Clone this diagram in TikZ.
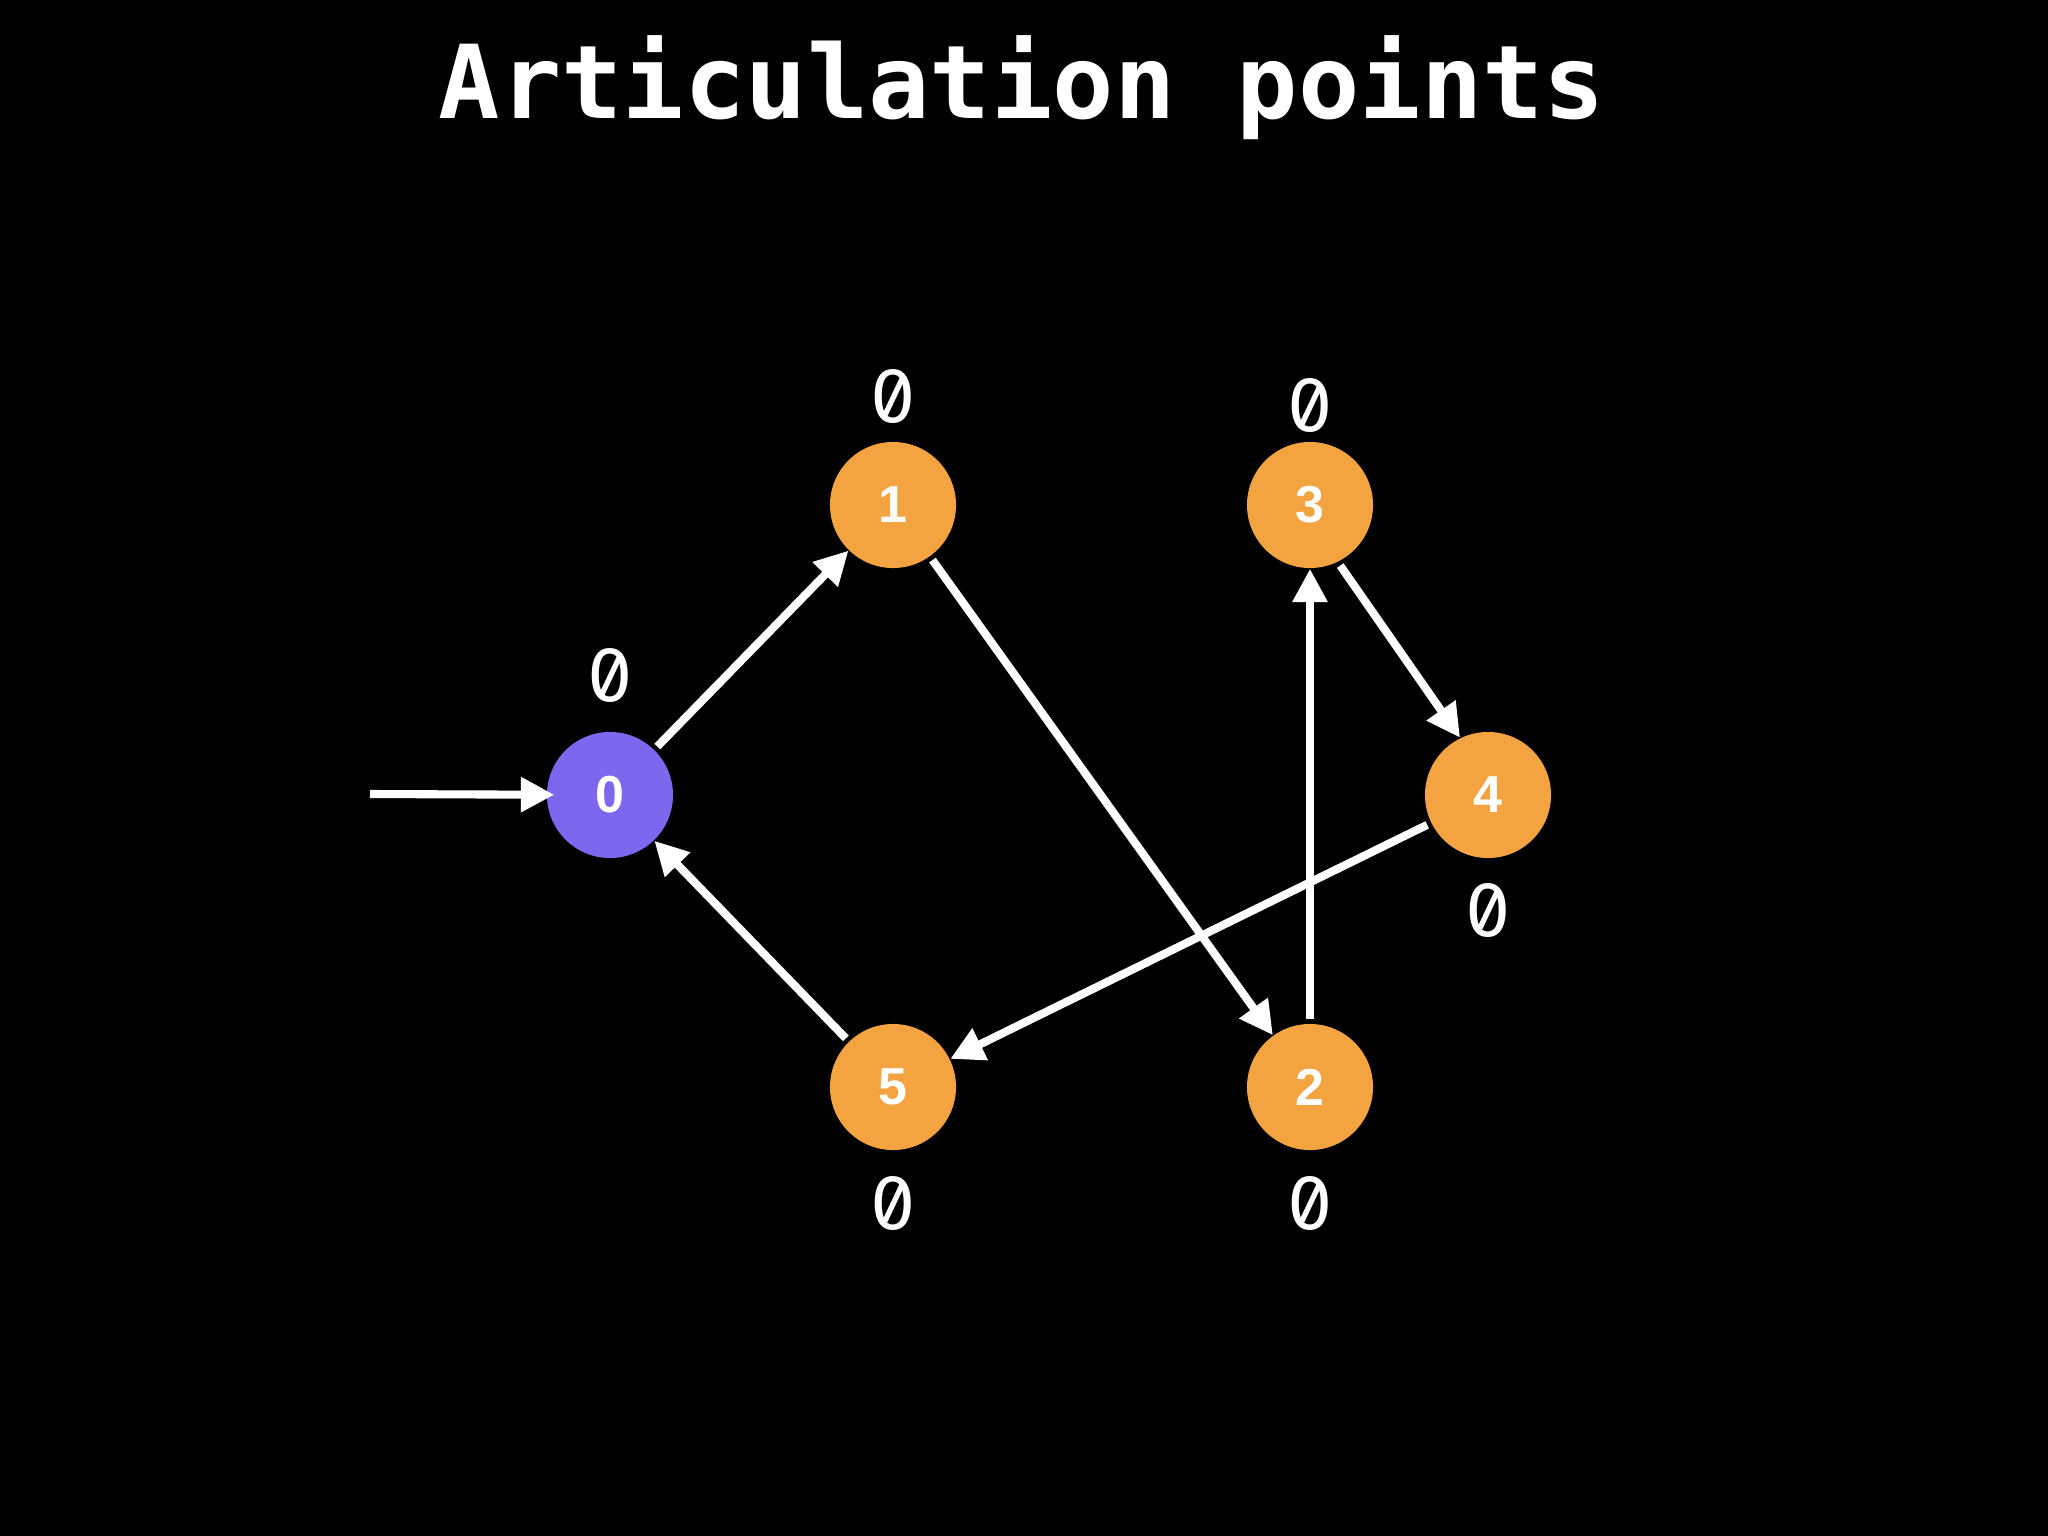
\documentclass[tikz,border=0pt]{standalone}
\usepackage{fontspec}
\setmainfont{Liberation Sans}
\newfontfamily\monofont{DejaVu Sans Mono}
\newfontfamily\valfont{DejaVu Sans}
\usetikzlibrary{arrows.meta}
\definecolor{nodeorange}{HTML}{F4A341}
\definecolor{nodepurple}{HTML}{7B68EE}
\begin{document}
\begin{tikzpicture}[x=0.01cm,y=-0.01cm,
  vertex/.style={circle, minimum size=1.26cm, inner sep=0pt, fill=nodeorange, text=white,
    font=\fontsize{14.8}{14.8}\selectfont\bfseries},
  valuelabel/.style={text=white, inner sep=0pt, font=\valfont\fontsize{20.3}{20.3}\selectfont},
  slashstroke/.style={draw=white, line width=1.5pt},
  edge/.style={draw=white, line width=2.3pt, -{Triangle[length=9.5pt,width=9.5pt]}, shorten <=0.04cm}]
\fill[black] (0,0) rectangle (2048,1536);
\useasboundingbox (0,0) rectangle (2048,1536);
\node[text=white, inner sep=0pt, anchor=base, font=\monofont\fontsize{29}{29}\selectfont\bfseries] (title) at (1022,118) {Articulation points};
\node[vertex, fill=nodepurple] (n0) at (610,795) {0};
\node[vertex] (n1) at (893,505) {1};
\node[vertex] (n3) at (1310,505) {3};
\node[vertex] (n4) at (1488,795) {4};
\node[vertex] (n5) at (893,1087) {5};
\node[vertex] (n2) at (1310,1087) {2};
\node[valuelabel] (l0) at (610,676) {0};
\node[valuelabel] (l1) at (893,397) {0};
\node[valuelabel] (l3) at (1310,406) {0};
\node[valuelabel] (l4) at (1488,910) {0};
\node[valuelabel] (l5) at (893,1203) {0};
\node[valuelabel] (l2) at (1310,1203) {0};
\foreach \n in {l0,l1,l3,l4,l5,l2}
  \draw[slashstroke] ([shift={(-8,18)}]\n.center) -- ([shift={(9,-18)}]\n.center);
\coordinate (start) at (370,794);
\draw[edge, shorten <=0pt, shorten >=-0.08cm] (start) -- (n0);
\draw[edge] (n0) -- (n1);
\draw[edge] (n1) -- (n2);
\draw[edge] (n2) -- (n3);
\draw[edge] (n3.-64) -- (n4.116);
\draw[edge] (n4) -- (n5);
\draw[edge] (n5) -- (n0);
\end{tikzpicture}
\end{document}
